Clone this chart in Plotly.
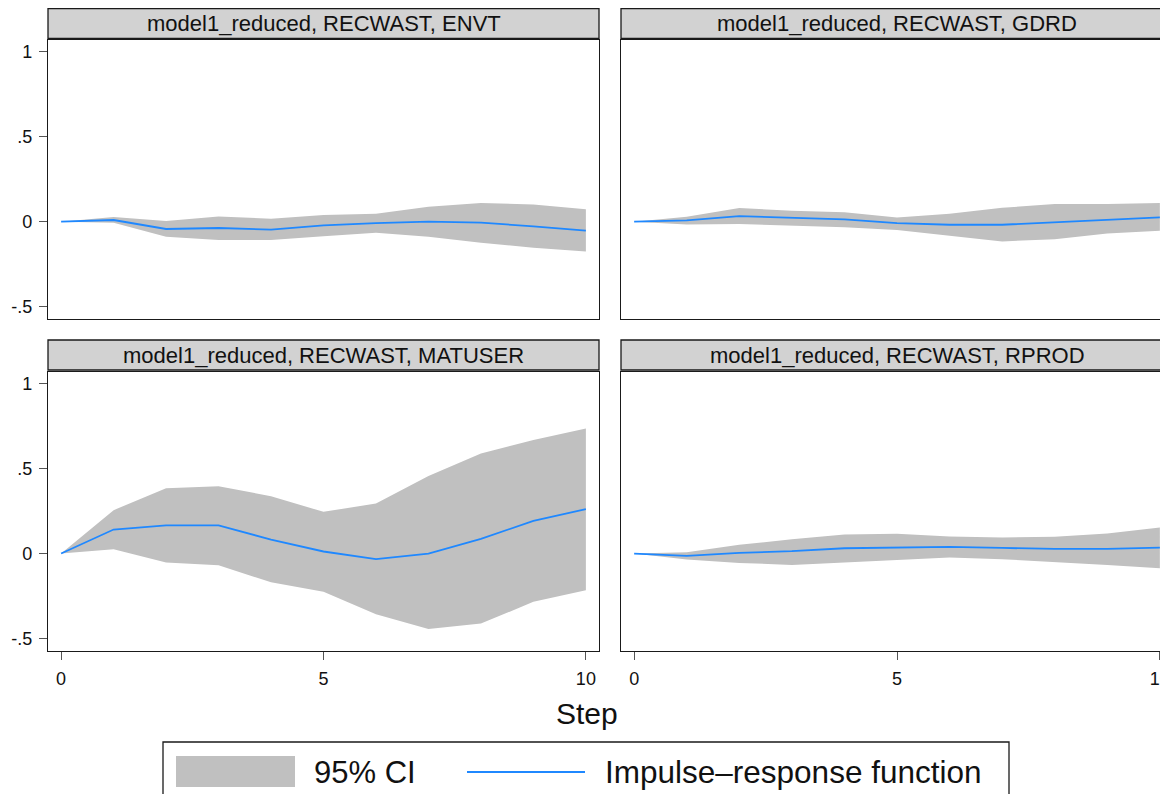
import plotly.graph_objects as go

steps = list(range(11))

panel_titles = [
    "model1_reduced, RECWAST, ENVT",
    "model1_reduced, RECWAST, GDRD",
    "model1_reduced, RECWAST, MATUSER",
    "model1_reduced, RECWAST, RPROD",
]

envt_irf = [0, 0.010, -0.043, -0.037, -0.047, -0.022, -0.008, 0.000, -0.006, -0.027, -0.053]
envt_hi = [0, 0.027, 0.004, 0.031, 0.018, 0.039, 0.047, 0.088, 0.110, 0.102, 0.073]
envt_lo = [0, -0.006, -0.088, -0.108, -0.108, -0.086, -0.065, -0.088, -0.124, -0.153, -0.176]

gdrd_irf = [0, 0.008, 0.033, 0.024, 0.014, -0.008, -0.018, -0.018, -0.004, 0.014, 0.025]
gdrd_hi = [0, 0.029, 0.080, 0.065, 0.055, 0.025, 0.047, 0.082, 0.104, 0.104, 0.110]
gdrd_lo = [0, -0.016, -0.014, -0.022, -0.033, -0.049, -0.084, -0.116, -0.104, -0.069, -0.053]

matuser_irf = [0, 0.141, 0.165, 0.165, 0.082, 0.012, -0.033, 0.000, 0.086, 0.192, 0.261]
matuser_hi = [0, 0.255, 0.384, 0.396, 0.337, 0.245, 0.294, 0.455, 0.588, 0.667, 0.735]
matuser_lo = [0, 0.025, -0.053, -0.069, -0.169, -0.225, -0.357, -0.443, -0.412, -0.284, -0.216]

rprod_irf = [0, -0.014, 0.004, 0.014, 0.031, 0.037, 0.039, 0.033, 0.027, 0.027, 0.035]
rprod_hi = [0, 0.008, 0.051, 0.084, 0.112, 0.116, 0.100, 0.094, 0.098, 0.118, 0.153]
rprod_lo = [0, -0.035, -0.055, -0.067, -0.051, -0.039, -0.024, -0.033, -0.049, -0.067, -0.086]

ytick_vals = [-0.5, 0, 0.5, 1]
ytick_text = ["-.5", "0", ".5", "1"]
xtick_vals = [0, 5, 10]
xtick_text = ["0", "5", "10"]

x_title = "Step"
legend_ci = "95% CI"
legend_irf = "Impulse\u2013response function"

W, H = 1168, 794
OFF = 8  # page body margin
BAND = "#c0c0c0"
LINE = "#1f88ff"
HEAD = "#d2d2d2"
FONT = "Liberation Sans, Arial, sans-serif"

panels = [
    (envt_irf, envt_hi, envt_lo),
    (gdrd_irf, gdrd_hi, gdrd_lo),
    (matuser_irf, matuser_hi, matuser_lo),
    (rprod_irf, rprod_hi, rprod_lo),
]

fig = go.Figure()
for i, (irf, hi, lo) in enumerate(panels):
    ax = "" if i == 0 else str(i + 1)
    fig.add_trace(go.Scatter(
        x=steps + steps[::-1], y=hi + lo[::-1], fill="toself",
        fillcolor=BAND, line=dict(width=0, color=BAND), mode="lines",
        hoverinfo="skip", showlegend=False,
        xaxis="x" + ax, yaxis="y" + ax))
    fig.add_trace(go.Scatter(
        x=steps, y=irf, mode="lines", line=dict(color=LINE, width=1.8),
        showlegend=False, xaxis="x" + ax, yaxis="y" + ax))

# pixel geometry in page coordinates
colx = [(48, 599), (621, 1173)]
rowy = [(40, 318.5), (371.5, 650.5)]
heady = [(8.5, 38.5), (340, 370)]

def px2fx(px):
    return (px - OFF) / W

def px2fy(py):
    return 1 - (py - OFF) / H

xr = [-0.25, 10.25]
yr = [-0.57, 1.07]

axis_common = dict(showgrid=False, zeroline=False, showline=True,
                   linecolor="#1a1a1a", linewidth=1.3,
                   tickcolor="#555555", tickwidth=1.2, ticklen=8,
                   ticklabeloverflow="allow",
                   tickfont=dict(family=FONT, size=18, color="#111111"))

layout = dict(width=W, height=H, margin=dict(l=0, r=0, t=0, b=0),
              plot_bgcolor="white", paper_bgcolor="white",
              font=dict(family=FONT), showlegend=False)

for i in range(4):
    r, c = divmod(i, 2)
    ax = "" if i == 0 else str(i + 1)
    xa = dict(axis_common)
    xa.update(domain=[px2fx(colx[c][0]), px2fx(colx[c][1])], range=xr,
              anchor="y" + ax, mirror=True)
    if r == 0:
        xa.update(ticks="", showticklabels=False)
    else:
        xa.update(ticks="outside", tickvals=xtick_vals, ticktext=xtick_text,
                  ticklabelstandoff=4)
    ya = dict(axis_common)
    ya.update(domain=[px2fy(rowy[r][1]), px2fy(rowy[r][0])], range=yr,
              anchor="x" + ax, mirror=True)
    if c == 0:
        ya.update(ticks="outside", tickvals=ytick_vals, ticktext=ytick_text,
                  ticklabelstandoff=3)
    else:
        ya.update(ticks="", showticklabels=False)
    layout["xaxis" + ax] = xa
    layout["yaxis" + ax] = ya

fig.update_layout(**layout)

shapes = []
annotations = []
for i, title in enumerate(panel_titles):
    r, c = divmod(i, 2)
    shapes.append(dict(type="rect", xref="paper", yref="paper",
                       x0=px2fx(colx[c][0]), x1=px2fx(colx[c][1]),
                       y0=px2fy(heady[r][1]), y1=px2fy(heady[r][0]),
                       fillcolor=HEAD, line=dict(color="#1a1a1a", width=1.3),
                       layer="above"))
    cx = (colx[c][0] + colx[c][1]) / 2
    annotations.append(dict(text=title, xref="paper", yref="paper",
                            x=px2fx(cx), y=px2fy((heady[r][0] + heady[r][1]) / 2),
                            xanchor="center", yanchor="middle", showarrow=False,
                            font=dict(family=FONT, size=22, color="#111111")))

annotations.append(dict(text=x_title, xref="paper", yref="paper",
                        x=px2fx(587), y=px2fy(713), xanchor="center",
                        yanchor="middle", showarrow=False,
                        font=dict(family=FONT, size=30, color="#111111")))

# legend box
shapes.append(dict(type="rect", xref="paper", yref="paper",
                   x0=px2fx(163), x1=px2fx(1009), y0=px2fy(830), y1=px2fy(742),
                   fillcolor="white", line=dict(color="#1a1a1a", width=1.3)))
shapes.append(dict(type="rect", xref="paper", yref="paper",
                   x0=px2fx(176), x1=px2fx(295), y0=px2fy(787), y1=px2fy(756),
                   fillcolor=BAND, line=dict(width=0)))
shapes.append(dict(type="line", xref="paper", yref="paper",
                   x0=px2fx(467), x1=px2fx(585), y0=px2fy(772), y1=px2fy(772),
                   line=dict(color=LINE, width=2)))
annotations.append(dict(text=legend_ci, xref="paper", yref="paper",
                        x=px2fx(312), y=px2fy(772), xanchor="left",
                        yanchor="middle", showarrow=False,
                        font=dict(family=FONT, size=31, color="#111111")))
annotations.append(dict(text=legend_irf, xref="paper", yref="paper",
                        x=px2fx(603), y=px2fy(772), xanchor="left",
                        yanchor="middle", showarrow=False,
                        font=dict(family=FONT, size=31.5, color="#111111")))

fig.update_layout(shapes=shapes, annotations=annotations)
fig.write_html("out.html")
